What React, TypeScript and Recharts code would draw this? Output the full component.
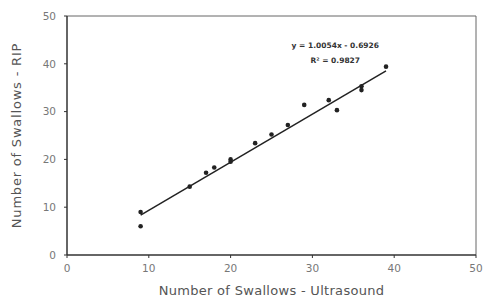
import { ScatterChart, Scatter, XAxis, YAxis, ReferenceLine, ReferenceDot } from "recharts";

const ultrasound = [9, 9, 15, 17, 18, 20, 20, 23, 25, 27, 29, 32, 33, 36, 36, 39];
const rip = [9, 6, 14.3, 17.2, 18.3, 19.5, 20, 23.4, 25.2, 27.2, 31.4, 32.4, 30.3, 34.5, 35.3, 39.4];
const ticks = [0, 10, 20, 30, 40, 50];
const slope = 1.0054;
const intercept = -0.6926;
const trendX = [9, 39];
const equation = "y = 1.0054x - 0.6926";
const rSquared = "R² = 0.9827";

const points = ultrasound.map((x, i) => ({ x, y: rip[i] }));
const trend = trendX.map((x) => ({ x, y: slope * x + intercept }));

const font = "'DejaVu Sans', Verdana, sans-serif";

const Dot = (p: any) => <circle cx={p.cx} cy={p.cy} r={2.3} fill="#222" />;

export default function App() {
  return (
    <div style={{ position: "absolute", left: 0, top: 0, background: "#fff", fontFamily: font }}>
      <ScatterChart width={483} height={301} margin={{ top: 16, right: 7, left: 0, bottom: 0 }}>
        <XAxis
          type="number" dataKey="x" domain={[0, 50]} ticks={ticks} height={46}
          tick={{ fontSize: 10.5, fill: "#777", fontFamily: font, dy: 5 }} tickSize={3}
          axisLine={{ stroke: "#333", strokeWidth: 1.5 }} tickLine={{ stroke: "#333" }}
          label={{ value: "Number of Swallows - Ultrasound", position: "insideBottom", offset: 6, fontSize: 13, fill: "#555", fontFamily: font, letterSpacing: 0.3 }}
        />
        <YAxis
          type="number" dataKey="y" domain={[0, 50]} ticks={ticks} width={67}
          tick={{ fontSize: 10.5, fill: "#777", fontFamily: font, dx: -6 }} tickSize={3}
          axisLine={{ stroke: "#333", strokeWidth: 1.5 }} tickLine={{ stroke: "#333" }}
          label={{ value: "Number of Swallows - RIP", angle: -90, position: "insideLeft", offset: 16, fontSize: 13, fill: "#555", fontFamily: font, letterSpacing: 0.8, style: { textAnchor: "middle" } }}
        />
        <ReferenceLine y={50} stroke="#666" strokeWidth={1} />
        <ReferenceLine x={50} stroke="#666" strokeWidth={1} />
        <Scatter data={points} shape={Dot} isAnimationActive={false} />
        <Scatter data={trend} line={{ stroke: "#222", strokeWidth: 1.5 }} shape={() => null} isAnimationActive={false} />
        <ReferenceDot x={32.8} y={43.9} r={0} label={{ value: equation, fontSize: 7.5, fontWeight: "bold", fill: "#333", fontFamily: font }} />
        <ReferenceDot x={32.8} y={40.8} r={0} label={{ value: rSquared, fontSize: 7.5, fontWeight: "bold", fill: "#333", fontFamily: font }} />
      </ScatterChart>
    </div>
  );
}
